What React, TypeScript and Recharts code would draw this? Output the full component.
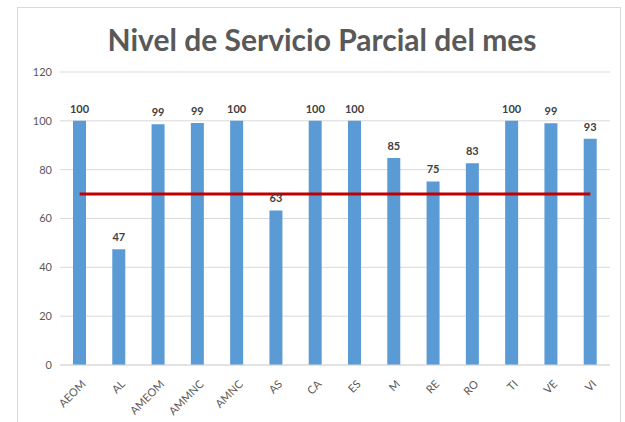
import React from "react";
import {
  ComposedChart,
  Bar,
  Line,
  XAxis,
  YAxis,
  CartesianGrid,
  LabelList,
} from "recharts";

const categories = [
  "AEOM", "AL", "AMEOM", "AMMNC", "AMNC", "AS", "CA",
  "ES", "M", "RE", "RO", "TI", "VE", "VI",
];
const serviceLevel = [100, 47.4, 98.6, 99.1, 100, 63.3, 100, 100, 84.8, 75.2, 82.6, 100, 99.0, 92.7];
const targetLevel = [70, 70, 70, 70, 70, 70, 70, 70, 70, 70, 70, 70, 70, 70];
const yTicks = [0, 20, 40, 60, 80, 100, 120];

const data = categories.map((name, i) => ({
  name,
  value: serviceLevel[i],
  target: targetLevel[i],
}));

const FONT = "Lato, 'Open Sans', sans-serif";

const XTick = (props: any) => {
  const { x, y, payload } = props;
  return (
    <g transform={`translate(${x + 4},${y + 9})`}>
      <text
        x={0}
        y={0}
        dy={4}
        textAnchor="end"
        transform="rotate(-45)"
        fill="#595959"
        fontSize={11}
        fontFamily={FONT}
      >
        {payload.value}
      </text>
    </g>
  );
};

export default function App() {
  return (
    <div
      style={{
        position: "absolute",
        left: 0,
        top: 0,
        width: 625,
        height: 422,
        background: "#fff",
        overflow: "hidden",
        fontFamily: FONT,
      }}
    >
      <div
        style={{
          position: "absolute",
          left: 17,
          top: 7,
          width: 604,
          height: 430,
          border: "1px solid #d9d9d9",
          boxSizing: "border-box",
        }}
      />
      <div
        style={{
          position: "absolute",
          left: 0,
          top: 19,
          width: 644,
          textAlign: "center",
          fontSize: 30,
          fontWeight: "bold",
          color: "#595959",
          lineHeight: "40px",
          fontFamily: FONT,
        }}
      >
        Nivel de Servicio Parcial del mes
      </div>
      <div style={{ position: "absolute", left: 0, top: 0 }}>
        <ComposedChart
          width={625}
          height={422}
          data={data}
          margin={{ top: 72, right: 15, bottom: 0, left: 0 }}
        >
          <CartesianGrid vertical={false} stroke="#d9d9d9" />
          <XAxis
            dataKey="name"
            tickLine={false}
            axisLine={{ stroke: "#d9d9d9" }}
            height={57}
            interval={0}
            tick={<XTick />}
          />
          <YAxis
            domain={[0, 120]}
            ticks={yTicks}
            width={60}
            axisLine={false}
            tickLine={false}
            tick={{ fill: "#595959", fontSize: 11, fontFamily: FONT }}
          />
          <Bar dataKey="value" fill="#5B9BD5" barSize={13} isAnimationActive={false}>
            <LabelList
              dataKey="value"
              position="top"
              offset={8}
              fill="#404040"
              fontSize={11}
              fontWeight="bold"
              fontFamily={FONT}
              formatter={(v: any) => Math.round(Number(v))}
            />
          </Bar>
          <Line
            dataKey="target"
            stroke="#C00000"
            strokeWidth={3}
            dot={false}
            activeDot={false}
            isAnimationActive={false}
          />
        </ComposedChart>
      </div>
    </div>
  );
}
